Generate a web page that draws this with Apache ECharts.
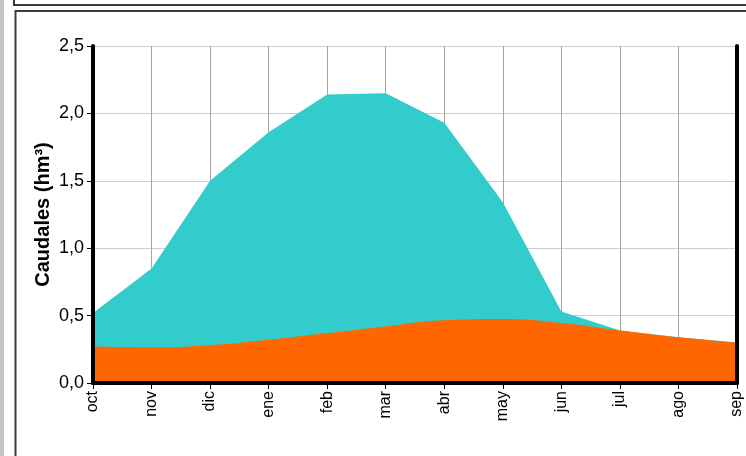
<!DOCTYPE html>
<html>
<head>
<meta charset="utf-8">
<script src="https://cdn.jsdelivr.net/npm/echarts@6/dist/echarts.min.js"></script>
<style>
  html, body { margin: 0; padding: 0; background: #fff; }
  #chart { width: 746px; height: 456px; }
</style>
</head>
<body>
<div id="chart"></div>
<script>
  // months of the hydrological year
  const months = ['oct', 'nov', 'dic', 'ene', 'feb', 'mar', 'abr', 'may', 'jun', 'jul', 'ago', 'sep'];
  // teal area (straight segments)
  const caudalTotal = [0.52, 0.85, 1.50, 1.86, 2.14, 2.15, 1.93, 1.34, 0.53, 0.39, 0.34, 0.30];
  // orange area (smooth)
  const caudalBase = [0.27, 0.265, 0.28, 0.32, 0.37, 0.42, 0.465, 0.475, 0.445, 0.39, 0.34, 0.30];

  const chart = echarts.init(document.getElementById('chart'));
  const font = 'Liberation Sans, Arial, sans-serif';

  // thick black frame axis, drawn above the areas
  const frameX = pos => ({
    type: 'category', data: months, position: pos, boundaryGap: false, z: 30,
    axisLine: { lineStyle: { color: '#000', width: 4 } },
    axisTick: { show: false }, axisLabel: { show: false }, splitLine: { show: false }
  });
  const frameY = pos => ({
    type: 'value', position: pos, min: 0, max: 2.5, interval: 0.5, z: 30,
    axisLine: { show: true, lineStyle: { color: '#000', width: 4 } },
    axisTick: { show: false }, axisLabel: { show: false }, splitLine: { show: false }
  });

  chart.setOption({
    animation: false,
    grid: { left: 93, right: 9, top: 46, bottom: 73 },
    graphic: [
      { type: 'rect', shape: { x: 0, y: 0, width: 4, height: 456 }, style: { fill: '#c4c4c4' }, silent: true },
      { type: 'rect', shape: { x: 14, y: -10, width: 760, height: 15 }, style: { fill: 'none', stroke: '#3a3a3a', lineWidth: 2 }, silent: true },
      { type: 'rect', shape: { x: 15.5, y: 11, width: 760, height: 480 }, style: { fill: 'none', stroke: '#3a3a3a', lineWidth: 2 }, silent: true }
    ],
    xAxis: [
      {
        type: 'category',
        data: months,
        boundaryGap: false,
        z: 0,
        axisLine: { show: false },
        axisTick: { show: true, alignWithLabel: true, length: 6, lineStyle: { color: '#000', width: 1 } },
        axisLabel: { rotate: 90, margin: 8, color: '#000', fontFamily: font, fontSize: 16 },
        splitLine: { show: true, lineStyle: { color: '#a6a6a6', width: 1 } }
      },
      frameX('top'),
      frameX('bottom')
    ],
    yAxis: [
      {
        type: 'value',
        min: 0,
        max: 2.5,
        interval: 0.5,
        z: 0,
        name: 'Caudales (hm³)',
        nameLocation: 'middle',
        nameGap: 40,
        nameMoveOverlap: false,
        nameTextStyle: { color: '#000', fontFamily: font, fontSize: 20, fontWeight: 'bold' },
        axisLine: { show: false },
        axisTick: { show: true, length: 6, lineStyle: { color: '#000', width: 1 } },
        axisLabel: {
          margin: 9,
          color: '#000',
          fontFamily: font,
          fontSize: 18,
          formatter: v => v.toFixed(1).replace('.', ',')
        },
        splitLine: { show: true, lineStyle: { color: '#cccccc', width: 1 } }
      },
      frameY('right'),
      frameY('left')
    ],
    series: [
      {
        name: 'total',
        type: 'line',
        data: caudalTotal,
        showSymbol: false,
        lineStyle: { width: 0 },
        areaStyle: { color: '#33cccc', opacity: 1 },
        z: 20
      },
      {
        name: 'base',
        type: 'line',
        data: caudalBase,
        smooth: true,
        showSymbol: false,
        lineStyle: { width: 0 },
        areaStyle: { color: '#ff6600', opacity: 1 },
        z: 21
      }
    ]
  });
</script>
</body>
</html>
